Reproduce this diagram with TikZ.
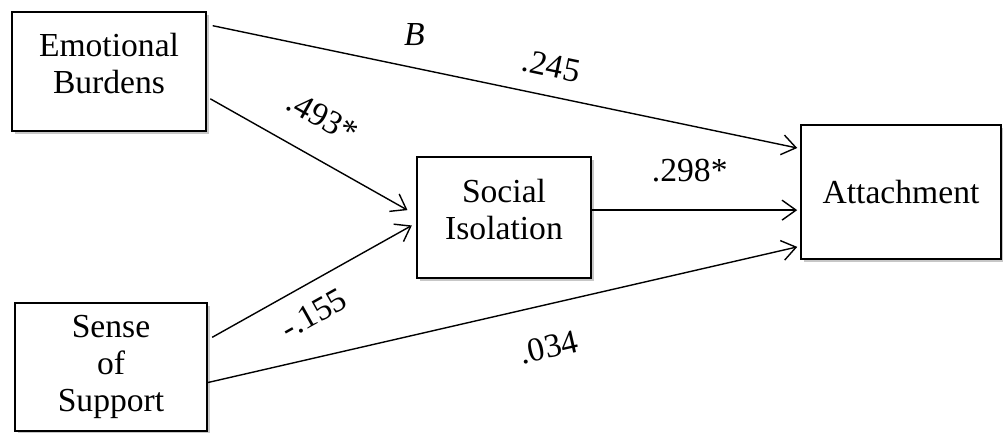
\documentclass[tikz,border=0pt]{standalone}
\usepackage{fontspec}
\setmainfont{Liberation Serif}
\usepackage{tikz}
\usetikzlibrary{arrows.meta,calc,shadows}
\tikzset{
  >={Straight Barb[length=7pt,width=10pt]},
  mbox/.style={rectangle, draw=black, fill=white, line width=0.8pt,
               align=center, inner sep=0pt, font=\fontsize{16.8}{18.3}\selectfont,
               drop shadow={shadow xshift=1.3pt, shadow yshift=-1.3pt,
                            opacity=0.22, fill=black}},
  mpath/.style={->, line width=0.7pt},
  mcoef/.style={inner sep=0pt, font=\fontsize{16.8}{18.3}\selectfont},
}

\begin{document}
\begin{tikzpicture}[x=0.5pt,y=-0.5pt]
  \useasboundingbox (0,0) rectangle (1003,433);

  % variables
  \node[mbox, minimum width=97pt, minimum height=59.5pt] (emo) at (109,71.5)
    {Emotional\\Burdens\\[-10pt]\mbox{}};
  \node[mbox, minimum width=96pt, minimum height=64pt] (sup) at (111,367)
    {Sense\\of\\Support};
  \node[mbox, minimum width=87pt, minimum height=60.5pt] (iso) at (504,217.5)
    {Social\\Isolation\\[-10pt]\mbox{}};
  \node[mbox, minimum width=100pt, minimum height=67pt] (att) at (901,192)
    {Attachment};

  % paths
  \draw[mpath, shorten <=3pt, shorten >=1.5pt]
    ($(emo.north east)!0.11!(emo.south east)$) -- ($(att.north west)!0.18!(att.south west)$)
    node[mcoef, pos=0.35, above=11pt] {\textit{B}}
    node[mcoef, pos=0.57, sloped, above=9pt] {.245};
  \draw[mpath, shorten <=2pt, shorten >=5pt]
    ($(emo.north east)!0.71!(emo.south east)$) -- ($(iso.north west)!0.48!(iso.south west)$)
    node[mcoef, pos=0.46, sloped, above=13.5pt] {.493*};
  \draw[mpath, shorten <=2.5pt, shorten >=2.5pt]
    ($(sup.north east)!0.29!(sup.south east)$) -- ($(iso.north west)!0.545!(iso.south west)$)
    node[mcoef, pos=0.44, sloped, below=8.5pt] {-.155};
  \draw[mpath, shorten >=1.5pt]
    ($(iso.north east)!0.44!(iso.south east)$) coordinate (isoout) -- (isoout -| att.west)
    node[mcoef, pos=0.47, above=13.5pt] {.298*};
  \draw[mpath, shorten >=1.5pt]
    ($(sup.north east)!0.62!(sup.south east)$) -- ($(att.north west)!0.9!(att.south west)$)
    node[mcoef, pos=0.56, sloped, below=15pt] {.034};

\end{tikzpicture}
\end{document}
